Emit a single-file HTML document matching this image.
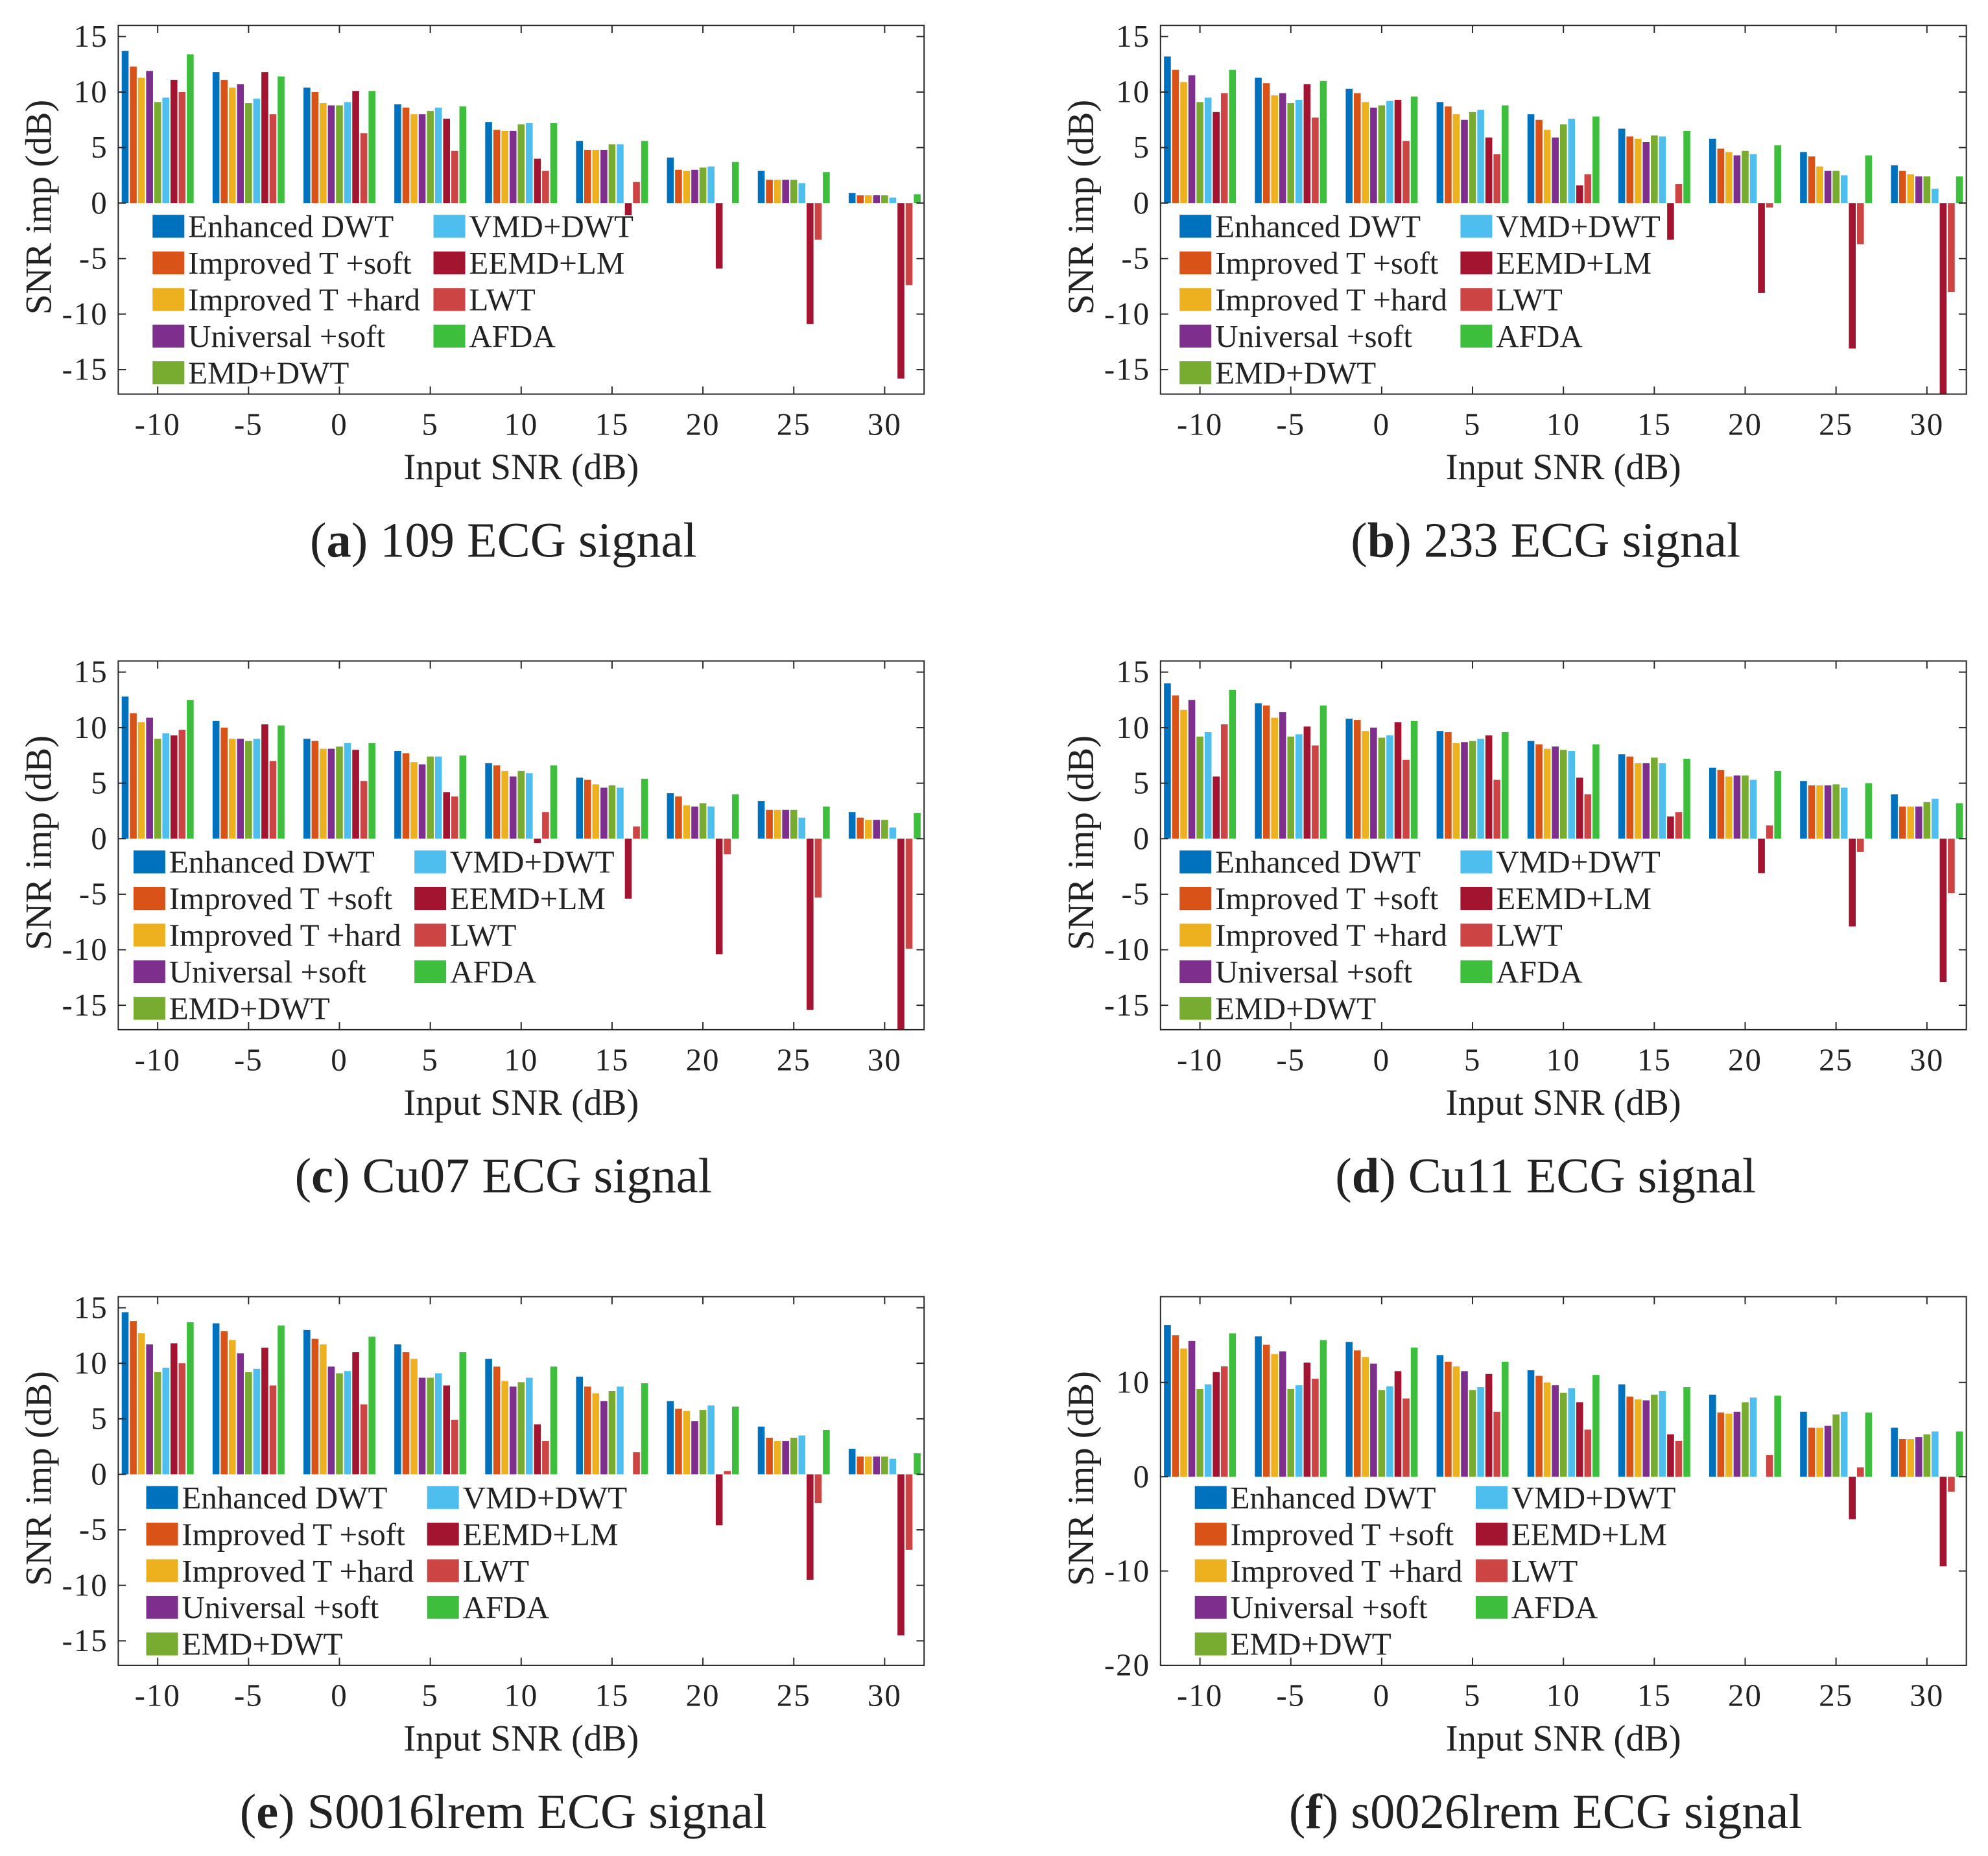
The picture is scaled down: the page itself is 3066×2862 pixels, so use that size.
<!DOCTYPE html>
<html><head><meta charset="utf-8"><style>
html,body{margin:0;padding:0;background:#fff}
svg{display:block}
text{font-family:"Liberation Serif",serif;fill:#222}
</style></head><body>
<svg id="chart" width="3066" height="2862" viewBox="0 0 1564 1460" xmlns="http://www.w3.org/2000/svg"></svg>
<script>
const categories=[-10,-5,0,5,10,15,20,25,30];
const seriesNames=["Enhanced DWT","Improved T +soft","Improved T +hard","Universal +soft","EMD+DWT","VMD+DWT","EEMD+LM","LWT","AFDA"];
const seriesColors=["#0072BD","#D95319","#EDB120","#7E2F8E","#77AC30","#4DBEEE","#A2142F","#CD4444","#3DBF3D"];
const panelTitles=["109 ECG signal","233 ECG signal","Cu07 ECG signal","Cu11 ECG signal","S0016lrem ECG signal","s0026lrem ECG signal"];
const panelLetters=["a","b","c","d","e","f"];
const valuesA=[[13.7,12.3,11.3,11.9,9.1,9.5,11.1,10.0,13.4],[11.8,11.1,10.4,10.7,9.0,9.4,11.8,8.0,11.4],[10.4,10.0,9.0,8.8,8.8,9.1,10.1,6.3,10.1],[8.9,8.6,8.0,8.0,8.3,8.6,7.6,4.7,8.7],[7.3,6.6,6.5,6.5,7.1,7.2,4.0,2.9,7.2],[5.6,4.8,4.8,4.8,5.3,5.3,-1.1,1.9,5.6],[4.1,3.0,2.9,3.0,3.2,3.3,-5.9,0,3.7],[2.9,2.1,2.1,2.1,2.1,1.8,-10.9,-3.3,2.8],[0.9,0.7,0.7,0.7,0.7,0.5,-15.8,-7.4,0.8]];
const valuesB=[[13.2,12.0,10.9,11.5,9.1,9.5,8.2,9.9,12.0],[11.3,10.8,9.7,9.9,9.0,9.3,10.7,7.7,11.0],[10.3,9.9,9.1,8.6,8.8,9.2,9.3,5.6,9.6],[9.1,8.7,8.0,7.5,8.2,8.4,5.9,4.4,8.8],[8.0,7.5,6.6,5.9,7.1,7.6,1.6,2.6,7.8],[6.7,6.0,5.8,5.5,6.1,6.0,-3.3,1.7,6.5],[5.8,4.9,4.6,4.3,4.7,4.4,-8.1,-0.4,5.2],[4.6,4.2,3.3,2.9,2.9,2.5,-13.1,-3.7,4.3],[3.4,2.9,2.6,2.4,2.4,1.3,-17.5,-8.0,2.4]];
const valuesC=[[12.8,11.3,10.5,10.9,9.0,9.5,9.3,9.8,12.5],[10.6,10.0,9.0,9.0,8.8,9.0,10.3,7.0,10.2],[9.0,8.8,8.1,8.1,8.3,8.6,8.0,5.2,8.6],[7.9,7.7,6.9,6.7,7.4,7.4,4.2,3.8,7.5],[6.8,6.6,6.1,5.6,6.1,5.9,-0.4,2.4,6.6],[5.5,5.3,4.9,4.6,4.8,4.6,-5.4,1.1,5.4],[4.1,3.8,3.0,2.9,3.2,2.9,-10.4,-1.4,4.0],[3.4,2.6,2.6,2.6,2.6,1.9,-15.4,-5.3,2.9],[2.4,1.9,1.7,1.7,1.7,1.0,-17.5,-9.9,2.3]];
const valuesD=[[14.0,12.9,11.6,12.5,9.2,9.6,5.6,10.3,13.4],[12.2,12.0,10.9,11.4,9.2,9.4,10.1,8.4,12.0],[10.8,10.7,9.7,10.0,9.1,9.3,10.5,7.1,10.6],[9.7,9.6,8.6,8.7,8.8,9.0,9.3,5.3,9.6],[8.8,8.5,8.1,8.3,8.0,7.9,5.5,4.0,8.5],[7.6,7.4,6.8,6.8,7.3,6.8,2.0,2.4,7.2],[6.4,6.2,5.6,5.7,5.7,5.3,-3.1,1.2,6.1],[5.2,4.8,4.8,4.8,4.9,4.6,-7.9,-1.2,5.0],[4.0,2.9,2.9,2.9,3.3,3.6,-12.9,-4.9,3.2]];
const valuesE=[[14.6,13.8,12.7,11.7,9.2,9.6,11.8,10.0,13.7],[13.6,12.9,12.1,10.9,9.2,9.5,11.4,8.0,13.4],[13.0,12.2,11.7,9.7,9.1,9.3,11.0,6.3,12.4],[11.7,11.0,10.4,8.7,8.7,9.1,8.0,4.9,11.0],[10.4,9.7,8.4,7.9,8.3,8.7,4.5,3.0,9.7],[8.8,7.9,7.3,6.6,7.5,7.9,0,2.0,8.2],[6.6,5.9,5.7,4.8,5.8,6.2,-4.6,0.3,6.1],[4.3,3.3,3.0,3.0,3.3,3.5,-9.5,-2.6,4.0],[2.3,1.6,1.6,1.6,1.6,1.4,-14.5,-6.8,1.9]];
const valuesF=[[16.1,15.0,13.6,14.4,9.3,9.8,11.1,11.7,15.2],[14.9,14.0,13.0,13.3,9.3,9.7,12.1,10.4,14.5],[14.3,13.4,12.7,12.0,9.2,9.6,11.2,8.3,13.7],[12.9,12.2,11.7,11.2,9.2,9.5,10.9,6.9,12.2],[11.3,10.7,10.0,9.7,8.9,9.4,7.9,5.0,10.8],[9.8,8.5,8.2,8.1,8.7,9.1,4.5,3.8,9.5],[8.7,6.8,6.7,6.9,7.9,8.4,0,2.3,8.6],[6.9,5.2,5.2,5.4,6.6,6.9,-4.5,1.0,6.8],[5.2,4.0,4.0,4.2,4.5,4.8,-9.5,-1.6,4.8]];
const yTicksStd=[-15,-10,-5,0,5,10,15];
const yTicksF=[-20,-10,0,10];

const allValues=[valuesA,valuesB,valuesC,valuesD,valuesE,valuesF];
const NS="http://www.w3.org/2000/svg";
const svg=document.getElementById('chart');
function mk(tag,attrs,parent){const e=document.createElementNS(NS,tag);for(const k in attrs)e.setAttribute(k,attrs[k]);(parent||svg).appendChild(e);return e;}
const panels=[
 {x:93,y:20,ymin:-17.2,ymax:16,ticks:yTicksStd,leg:27},
 {x:913,y:20,ymin:-17.2,ymax:16,ticks:yTicksStd,leg:15},
 {x:93,y:520,ymin:-17.2,ymax:16,ticks:yTicksStd,leg:12},
 {x:913,y:520,ymin:-17.2,ymax:16,ticks:yTicksStd,leg:15},
 {x:93,y:1020,ymin:-17.2,ymax:16,ticks:yTicksStd,leg:22},
 {x:913,y:1020,ymin:-20,ymax:19.1,ticks:yTicksF,leg:27}];
const W=634,H=290,xmin=-12.17,xmax=32.17;
panels.forEach((p,pi)=>{
 const g=mk('g',{});
 
 
 const sx=v=>p.x+(v-xmin)/(xmax-xmin)*W;
 const sy=v=>p.y+(p.ymax-v)/(p.ymax-p.ymin)*H;
 const cp=mk('clipPath',{id:'cp'+pi},g);
 mk('rect',{x:p.x,y:p.y,width:W,height:H},cp);
 const bars=mk('g',{'clip-path':'url(#cp'+pi+')'},g);
 const vals=allValues[pi];
 const step=6.4,bw=5.4;
 categories.forEach((c,ci)=>{
  for(let s=0;s<9;s++){
   const v=vals[ci][s];
   const cx=sx(c)+(s-4)*step;
   const y0=sy(0),y1=sy(v);
   const r=mk('rect',{x:cx-bw/2,y:Math.min(y0,y1),width:bw,height:Math.max(Math.abs(y1-y0),0.01),fill:seriesColors[s]},bars);
   
   
  }
 });
 mk('rect',{x:p.x,y:p.y,width:W,height:H,fill:'none',stroke:'#262626','stroke-width':1},g);
 categories.forEach(c=>{
  const x=sx(c);
  mk('line',{x1:x,x2:x,y1:p.y+H,y2:p.y+H-6,stroke:'#262626'},g);
  mk('line',{x1:x,x2:x,y1:p.y,y2:p.y+6,stroke:'#262626'},g);
  const t=mk('text',{x:x,y:p.y+H+32,'text-anchor':'middle','font-size':25,'letter-spacing':1},g);t.textContent=c;
  
  
 });
 p.ticks.forEach(v=>{
  const y=sy(v);
  mk('line',{x1:p.x,x2:p.x+6,y1:y,y2:y,stroke:'#262626'},g);
  mk('line',{x1:p.x+W,x2:p.x+W-6,y1:y,y2:y,stroke:'#262626'},g);
  const t=mk('text',{x:p.x-8,y:y+8,'text-anchor':'end','font-size':25,'letter-spacing':1},g);t.textContent=v;
  
  
 });
 const yl=mk('text',{x:0,y:0,'text-anchor':'middle','font-size':29,transform:`translate(${p.x-53},${p.y+143}) rotate(-90)`},g);
 yl.textContent='SNR imp (dB)';
 
 
 const xl=mk('text',{x:p.x+W/2,y:p.y+H+67,'text-anchor':'middle','font-size':29},g);
 xl.textContent='Input SNR (dB)';
 
 
 const cap=mk('text',{x:p.x+W/2-14,y:p.y+418,'text-anchor':'middle','font-size':39},g);
 cap.innerHTML='(<tspan font-weight="bold">'+panelLetters[pi]+'</tspan>) '+panelTitles[pi];
 
 
 seriesNames.forEach((n,s)=>{
  const col=s<5?0:1,row=s<5?s:s-5;
  const lx=p.x+p.leg+col*221, ly=p.y+158+row*28.8;
  const le=mk('g',{},g);
  
  
  mk('rect',{x:lx,y:ly-9,width:25,height:18,fill:seriesColors[s]},le);
  const t=mk('text',{x:lx+28,y:ly+8.5,'font-size':25},le);t.textContent=n;
 });
});
</script>
</body></html>
